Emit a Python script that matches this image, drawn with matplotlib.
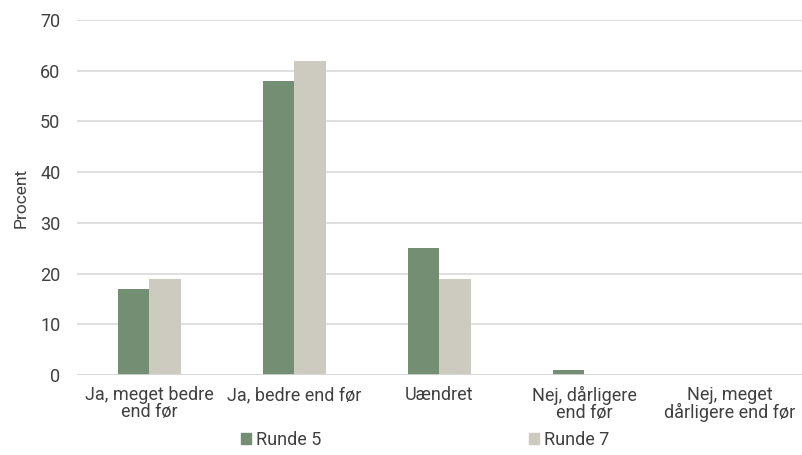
import numpy as np
import matplotlib.pyplot as plt
from matplotlib.patches import Patch

plt.rcParams['font.family'] = ['Roboto', 'DejaVu Sans']

categories = ['Ja, meget bedre\nend før', 'Ja, bedre end før', 'Uændret',
              'Nej, dårligere\nend før', 'Nej, meget\ndårligere end før']
runde5 = [17, 58, 25, 1, 0]
runde7 = [19, 62, 19, 0, 0]
series_names = ['Runde 5', 'Runde 7']

green = '#748e74'
beige = '#cdcac0'
text_col = '#404040'
fs = 13

fig = plt.figure(figsize=(8.02, 4.55), dpi=100)
ax = fig.add_axes([0.096, 0.176, 0.904, 0.78])

x = np.arange(len(categories))
w = 0.22
ax.bar(x - w / 2, runde5, w, color=green, zorder=3)
ax.bar(x + w / 2, runde7, w, color=beige, zorder=3)

ax.set_xlim(-0.5, len(categories) - 0.5)
ax.set_ylim(0, 70)
ax.set_yticks(range(0, 71, 10))
ax.yaxis.grid(True, color='#d9d9d9', linewidth=1.2, zorder=0)
for s in ax.spines.values():
    s.set_visible(False)
ax.axhline(0, color='#d9d9d9', linewidth=1.2, zorder=4)

ax.set_xticks(x)
ax.set_xticklabels(categories, fontsize=fs, color=text_col, linespacing=0.9)
ax.tick_params(axis='both', length=0, labelsize=fs, labelcolor=text_col)
ax.tick_params(axis='x', pad=8)
ax.tick_params(axis='y', pad=12)
ax.set_ylabel('Procent', fontsize=fs - 0.5, color=text_col, labelpad=8)

handles = [Patch(color=green), Patch(color=beige)]
fig.legend(handles, series_names, loc='center', bbox_to_anchor=(0.530, 0.033),
           ncol=2, frameon=False, fontsize=fs, handlelength=0.55,
           handleheight=0.6, handletextpad=0.3, columnspacing=11.5,
           labelcolor=text_col)

fig.savefig('out.png', dpi=100)
